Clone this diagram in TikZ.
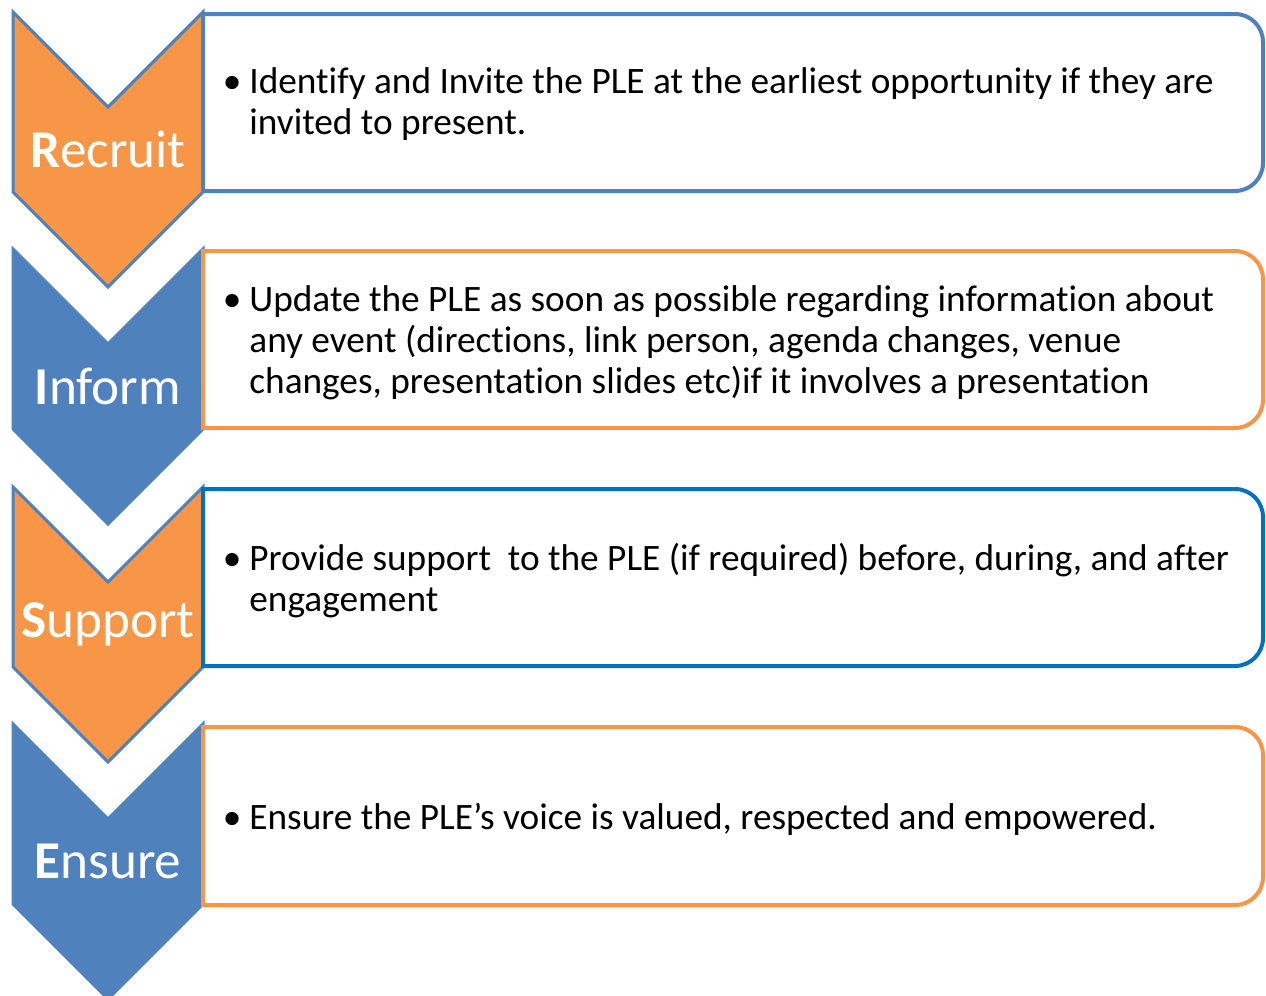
\documentclass[tikz,border=0pt]{standalone}
\usepackage{fontspec}
\setmainfont{Carlito}[Ligatures=NoCommon]
\usetikzlibrary{positioning}
\definecolor{tangerine}{HTML}{F79646}
\definecolor{steel}{HTML}{4F81BD}
\definecolor{cobalt}{HTML}{0070C0}
% chevron whose top edge sits at y=#1 (pixel grid, y grows downwards)
\newcommand{\chev}[3]{%
  \draw[chev,fill=#2,draw=#3] (13,#1) -- (108,#1+95) -- (203,#1) -- (203,#1+180)
    -- (108,#1+275) -- (13,#1+180) -- cycle;}
% text panel, square on the left, rounded on the right
\newcommand{\panel}[3]{%
  \draw[panel,draw=#3] (203,#1) -- (1235,#1) arc[start angle=90,end angle=0,radius=14pt]
    -- (1263,#2-28) arc[start angle=0,end angle=-90,radius=14pt] -- (203,#2) -- cycle;}
\newcommand{\bul}{\llap{\textbullet\hspace{4pt}}}

\begin{document}
\begin{tikzpicture}[
  x=0.5pt,y=-0.5pt,
  chev/.style={line width=1.5pt,line join=miter},
  panel/.style={line width=2pt,fill=white},
  steplabel/.style={text=white,font=\fontsize{26.6}{30}\selectfont,inner sep=0pt},
  steptext/.style={anchor=west,align=left,inner sep=0pt,font=\fontsize{18.65}{20.5}\selectfont}
]
\useasboundingbox (0,0) rectangle (1266,996);
\chev{12}{tangerine}{steel}
\chev{249}{steel}{steel}
\chev{487}{tangerine}{steel}
\chev{724}{steel}{steel}
\panel{14}{191}{steel}
\panel{251}{428}{tangerine}
\panel{489}{666}{cobalt}
\panel{727}{905}{tangerine}
\node[steplabel] (recruit) at (108,149) {\textbf{R}ecruit};
\node[steplabel] (inform) at (108,386) {\textbf{I}nform};
\node[steplabel] (support) at (108,624) {\textbf{S}upport};
\node[steplabel] (ensure) at (108,861) {\textbf{E}nsure};
\node[steptext] (recruittext) at (249,104) {\bul Identify and Invite the PLE at the earliest opportunity if they are\\invited to present.};
\node[steptext] (informtext) at (249,343) {\bul Update the PLE as soon as possible regarding information about\\any event (directions, link person, agenda changes, venue\\changes, presentation slides etc)if it involves a presentation};
\node[steptext] (supporttext) at (249,581) {\bul Provide support\ \ to the PLE (if required) before, during, and after\\engagement};
\node[steptext] (ensuretext) at (249,819) {\bul Ensure the PLE’s voice is valued, respected and empowered.};
\end{tikzpicture}
\end{document}
